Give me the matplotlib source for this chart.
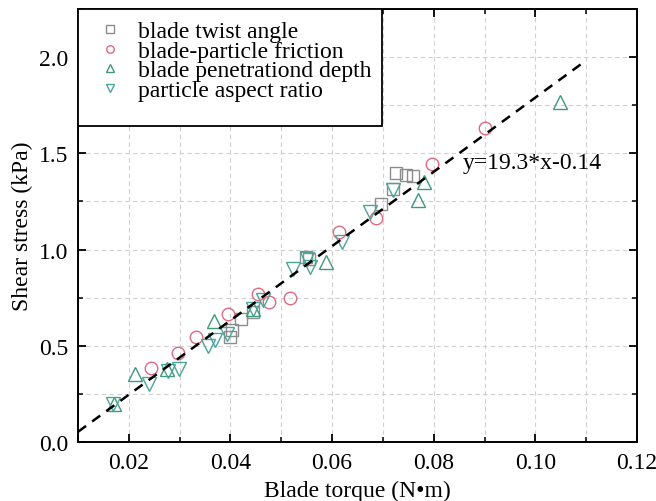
import matplotlib
matplotlib.use("Agg")
import matplotlib.pyplot as plt
import numpy as np
from matplotlib.ticker import MultipleLocator
from matplotlib.patches import Rectangle

plt.rcParams['font.family'] = ['Liberation Serif', 'DejaVu Serif']

# data
twist_x = [0.0400, 0.0404, 0.0420, 0.0445, 0.0548, 0.0555, 0.0697, 0.0719, 0.0725, 0.0746, 0.0760]
twist_y = [0.545, 0.58, 0.64, 0.675, 0.96, 0.95, 1.236, 1.314, 1.40, 1.39, 1.38]

fric_x = [0.0243, 0.0296, 0.0333, 0.0396, 0.0455, 0.0475, 0.0518, 0.0613, 0.0687, 0.0797, 0.0901]
fric_y = [0.384, 0.462, 0.545, 0.665, 0.768, 0.727, 0.748, 1.09, 1.163, 1.443, 1.63]

depth_x = [0.0170, 0.0213, 0.0276, 0.0367, 0.0445, 0.0589, 0.0770, 0.0781, 0.1049]
depth_y = [0.197, 0.353, 0.38, 0.628, 0.69, 0.934, 1.256, 1.35, 1.765]

aspect_x = [0.0168, 0.0239, 0.0278, 0.0298, 0.0355, 0.0370, 0.0394, 0.0445, 0.0464,
            0.0524, 0.0551, 0.0557, 0.0620, 0.0675, 0.0719]
aspect_y = [0.20, 0.30, 0.37, 0.38, 0.50, 0.53, 0.56, 0.69, 0.74,
            0.898, 0.95, 0.91, 1.04, 1.194, 1.31]

slope, intercept = 19.3, -0.14
fit_x = [0.01, 0.109]

xticks = [0.02, 0.04, 0.06, 0.08, 0.10, 0.12]
xticklabels = ['0.02', '0.04', '0.06', '0.08', '0.10', '0.12']
yticks = [0.0, 0.5, 1.0, 1.5, 2.0]
yticklabels = ['0.0', '0.5', '1.0', '1.5', '2.0']

FS = 17

fig = plt.figure(figsize=(6.56, 5.02), dpi=100)
ax = fig.add_axes([0.1189, 0.1175, 0.971 - 0.1189, 0.980 - 0.1175])

ms = 9
ax.plot(twist_x, twist_y, linestyle='none', marker='s', ms=ms - 0.5, mfc='none', mec='#8c8c8c', mew=1.0,
        label='blade twist angle')
ax.plot(fric_x, fric_y, linestyle='none', marker='o', ms=ms, mfc='none', mec='#e06a80', mew=1.0,
        label='blade-particle friction')
ax.plot(depth_x, depth_y, linestyle='none', marker='^', ms=ms + 1.5, mfc='none', mec='#3f9a78', mew=1.0,
        label='blade penetrationd depth')
ax.plot(aspect_x, aspect_y, linestyle='none', marker='v', ms=ms + 1.5, mfc='none', mec='#4aa59a', mew=1.0,
        label='particle aspect ratio')

fx = np.array(fit_x)
ax.plot(fx, slope * fx + intercept, color='black', linestyle=(0, (4, 3)), lw=1.8)
ax.text(0.0858, 1.454, 'y=19.3*x-0.14', fontsize=FS, va='center', ha='left')

ax.set_xlim(0.01, 0.12)
ax.set_ylim(0.0, 2.25)
ax.xaxis.set_minor_locator(MultipleLocator(0.01))
ax.yaxis.set_minor_locator(MultipleLocator(0.25))
ax.set_xticks(xticks)
ax.set_xticklabels(xticklabels)
ax.set_yticks(yticks)
ax.set_yticklabels(yticklabels)

ax.grid(True, which='both', color='#d0d0d0', linestyle=(0, (4, 3)), lw=0.8)
ax.set_axisbelow(True)
ax.tick_params(which='both', direction='in', top=True, right=True, labelsize=FS)
ax.tick_params(which='major', length=6, width=1.3, pad=7)
ax.tick_params(which='minor', length=3.5, width=1.1)
for s in ax.spines.values():
    s.set_linewidth(1.4)

ax.set_xlabel('Blade torque (N\u2022m)', fontsize=FS, labelpad=5)
ax.set_ylabel('Shear stress (kPa)', fontsize=FS, labelpad=4)

# legend frame (box taller than the entries, as in the reference)
frame = Rectangle((0, 0.730), 0.544, 0.270, transform=ax.transAxes, facecolor='white',
                  edgecolor='black', lw=1.3, zorder=4.5)
ax.add_patch(frame)
leg = ax.legend(loc='upper left', bbox_to_anchor=(0, 0.984), borderaxespad=0, fontsize=FS,
                frameon=False, markerscale=0.6, labelspacing=-0.08, handletextpad=0.05,
                handlelength=2.3, borderpad=0.2)
leg.set_zorder(5)

fig.savefig('out.png', dpi=100)
